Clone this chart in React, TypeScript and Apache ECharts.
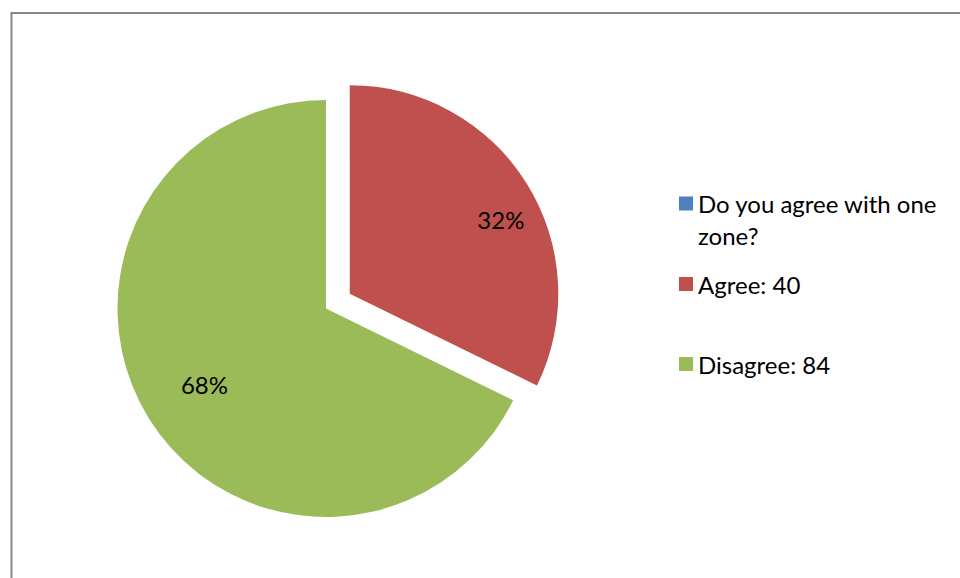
import React, { useEffect, useRef } from "react";
import * as echarts from "echarts";

const categories = ["Do you agree with one zone?", "Agree: 40", "Disagree: 84"];
const values = [0, 40, 84];
const colors = ["#4F81BD", "#C0504D", "#9BBB59"];
const explodedIndex = 1;

const FONT = "Lato, 'Open Sans', sans-serif";
const CX = 326;
const CY = 308.5;
const R = 208.5;
const L = 32;

export default function App() {
  const ref = useRef<HTMLDivElement>(null);
  useEffect(() => {
    if (!ref.current) return;
    const chart = echarts.init(ref.current, undefined, { renderer: "svg" });
    const data = categories.map((name, i) => ({
      name,
      value: values[i],
      selected: i === explodedIndex,
      itemStyle: { color: colors[i] },
    }));
    const total = values.reduce((a, b) => a + b, 0);
    const legendBase = {
      orient: "vertical" as const,
      left: 679,
      padding: 0,
      itemWidth: 14,
      itemHeight: 14,
      itemGap: 0,
      icon: "rect",
      selectedMode: false,
      textStyle: { fontFamily: FONT, fontSize: 24, color: "#000", lineHeight: L },
    };
    chart.setOption({
      animation: false,
      backgroundColor: "#fff",
      graphic: [
        {
          type: "polyline",
          shape: { points: [[11.5, 600], [11.5, 13], [960, 13]] },
          style: { stroke: "#868686", lineWidth: 2, fill: null },
          silent: true,
        },
      ],
      legend: [
        {
          ...legendBase,
          top: 155.5,
          data: [categories[0]],
          formatter: () => "\nDo you agree with one\nzone?",
        },
        { ...legendBase, top: 268, data: [categories[1]] },
        { ...legendBase, top: 348, data: [categories[2]] },
      ],
      series: [
        {
          type: "pie",
          center: [CX, CY],
          radius: [0, R],
          startAngle: 90,
          clockwise: true,
          selectedMode: "single",
          selectedOffset: 28,
          label: { show: false },
          labelLine: { show: false },
          emphasis: { disabled: true },
          data,
        },
        {
          type: "pie",
          center: [CX, CY],
          radius: [R * 0.35, R * 0.995],
          startAngle: 90,
          clockwise: true,
          selectedMode: "single",
          selectedOffset: 51,
          silent: true,
          legendHoverLink: false,
          itemStyle: { color: "rgba(0,0,0,0)" },
          label: {
            show: true,
            position: "inside",
            fontFamily: FONT,
            fontSize: 24,
            color: "#000",
            formatter: (p: any) => (p.value > 0 ? Math.round((p.value / total) * 100) + "%" : ""),
          },
          labelLayout: (p: any) => (p.dataIndex === explodedIndex ? { dx: 10, dy: 14 } : {}),
          labelLine: { show: false },
          emphasis: { disabled: true },
          data: categories.map((name, i) => ({
            name: "lbl" + i,
            value: values[i],
            selected: i === explodedIndex,
          })),
        },
      ],
    });
    return () => chart.dispose();
  }, []);
  return (
    <div
      ref={ref}
      style={{ position: "absolute", left: 0, top: 0, width: 960, height: 578 }}
    />
  );
}
